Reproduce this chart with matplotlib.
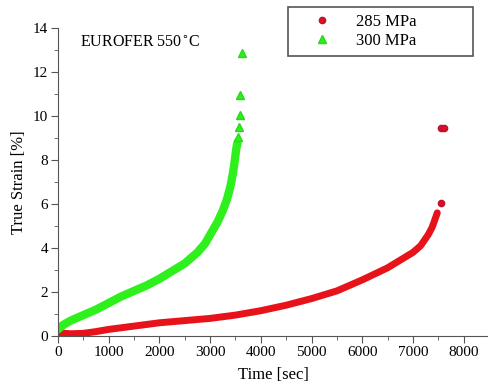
"""
Creep curves EUROFER 550 C
"""
import matplotlib.pyplot as plt
from matplotlib.ticker import MultipleLocator
import numpy as np

plt.rcParams['font.family'] = ['Liberation Serif', 'DejaVu Serif']

# 300 MPa
t_300 = np.array([0, 100, 250, 500, 750, 1000, 1250, 1500, 1750, 2000, 2250, 2500,
                  2750, 2900, 3050, 3150, 3250, 3330, 3400, 3450, 3488, 3515, 3540,
                  3553, 3567, 3586, 3590, 3620])
s_300 = np.array([0.3, 0.5, 0.7, 0.95, 1.2, 1.5, 1.8, 2.05, 2.3, 2.6, 2.95, 3.3,
                  3.8, 4.2, 4.8, 5.2, 5.7, 6.2, 6.8, 7.4, 8.0, 8.5, 8.8,
                  9.05, 9.5, 10.05, 10.95, 12.86])

# 285 MPa
t_285 = np.array([0, 250, 500, 750, 1000, 1500, 2000, 2500, 3000, 3500, 4000, 4500,
                  5000, 5500, 6000, 6500, 6750, 7000, 7150, 7300, 7380, 7450, 7480,
                  7560, 7560, 7610])
s_285 = np.array([0.15, 0.1, 0.12, 0.2, 0.3, 0.45, 0.6, 0.7, 0.8, 0.95, 1.15, 1.4,
                  1.7, 2.05, 2.55, 3.1, 3.45, 3.8, 4.1, 4.6, 4.95, 5.4, 5.6,
                  6.05, 9.45, 9.45])

red = '#e8121a'
green = '#2ef01c'

fig = plt.figure(figsize=(4.89, 3.85), dpi=100)
ax = fig.add_axes([0.1186, 0.1273, 0.8814, 0.7997])

# dense part drawn as a thick band, the rest as single markers
band_r = s_285 < 5.7
band_g = s_300 < 8.9
ax.plot(t_285[band_r], s_285[band_r], '-', color=red, lw=5, solid_capstyle='round')
ax.plot(t_300[band_g], s_300[band_g], '-', color=green, lw=6, solid_capstyle='round')
ax.plot(t_285[~band_r], s_285[~band_r], 'o', color='#d8102a', mec='#c0102c', ms=4.5,
        label='285 MPa')
ax.plot(t_300[~band_g], s_300[~band_g], '^', color=green, mec='#28d81a', ms=5.5,
        label='300 MPa')

ax.set_xlim(0, 8500)
ax.set_ylim(0, 14)
ax.spines['top'].set_visible(False)
ax.spines['right'].set_visible(False)
ax.spines['left'].set_color('#555555')
ax.spines['bottom'].set_color('#555555')
ax.xaxis.set_major_locator(MultipleLocator(1000))
ax.xaxis.set_minor_locator(MultipleLocator(500))
ax.yaxis.set_major_locator(MultipleLocator(2))
ax.yaxis.set_minor_locator(MultipleLocator(1))
ax.tick_params(which='major', length=5, color='#555555', labelsize=11, pad=2)
ax.tick_params(which='minor', length=3, color='#555555')

ax.set_xlabel('Time [sec]', fontsize=12, labelpad=6)
ax.set_ylabel('True Strain [%]', fontsize=12, labelpad=4)
ax.text(430, 13.3, 'EUROFER 550$^{\\circ}$C', fontsize=11.5, va='center')

leg = fig.legend(loc='upper left', mode='expand',
                 bbox_to_anchor=(288 / 489, 1 - 57 / 385, 185 / 489, 50 / 385),
                 fontsize=12, fancybox=False, edgecolor='#555555', framealpha=1,
                 handletextpad=0.4, borderpad=0.4, labelspacing=0.2,
                 handlelength=3.3, borderaxespad=0)
leg.get_frame().set_linewidth(1.2)

fig.savefig('out.png', dpi=100)
